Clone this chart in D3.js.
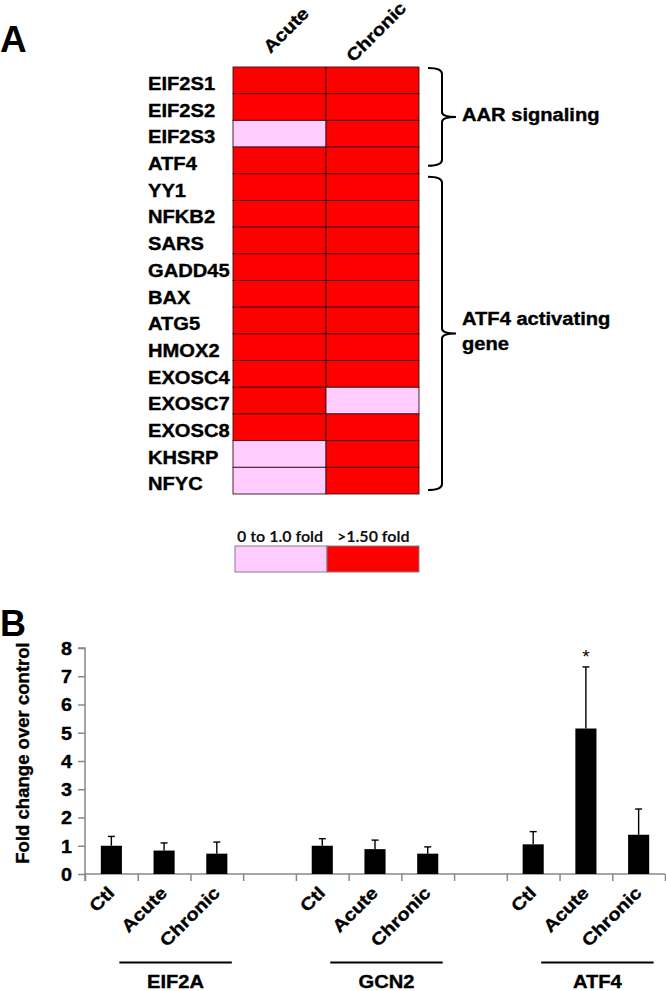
<!DOCTYPE html>
<html><head><meta charset="utf-8">
<script src="https://cdn.jsdelivr.net/npm/d3@7"></script>
<style>html,body{margin:0;padding:0;background:#fff}svg{display:block}</style>
</head><body>
<svg id="c" width="666" height="991"></svg>
<script>
// ---------- Data ----------
const genes = ["EIF2S1","EIF2S2","EIF2S3","ATF4","YY1","NFKB2","SARS","GADD45","BAX","ATG5","HMOX2","EXOSC4","EXOSC7","EXOSC8","KHSRP","NFYC"];
const heatColumns = ["Acute","Chronic"];
// 1 = ">1.50 fold", 0 = "0 to 1.0 fold"
const acuteLevel   = [1,1,0,1,1,1,1,1,1,1,1,1,1,1,0,0];
const chronicLevel = [1,1,1,1,1,1,1,1,1,1,1,1,0,1,1,1];
const legendLabels = ["0 to 1.0 fold", ">1.50 fold"];
const braceGroups = [
  {label:["AAR signaling"], first:"EIF2S1", last:"ATF4"},
  {label:["ATF4 activating","gene"], first:"YY1", last:"NFYC"}
];

const barGroups = ["EIF2A","GCN2","ATF4"];
const conditions = ["Ctl","Acute","Chronic"];
const meanEIF2A = [1.00, 0.83, 0.72];
const meanGCN2  = [1.00, 0.88, 0.72];
const meanATF4  = [1.05, 5.15, 1.39];
const errEIF2A  = [0.33, 0.27, 0.41];
const errGCN2   = [0.25, 0.32, 0.24];
const errATF4   = [0.45, 2.18, 0.91];
const yTicks = [0,1,2,3,4,5,6,7,8];
const significant = [{group:"ATF4", cond:"Acute", mark:"*"}];

// ---------- Setup ----------
const svg = d3.select("#c");
const FONT = "'Liberation Sans', Arial, sans-serif";
const XS = 1.15;
function stretch(sel, f){
  sel.each(function(){
    const L = this.getComputedTextLength();
    d3.select(this).attr("textLength", L*f).attr("lengthAdjust","spacingAndGlyphs");
  });
}
function heavy(sel){ sel.attr("stroke","#000").attr("stroke-width",0.35); }

// ---------- Panel A ----------
svg.append("text").attr("x",0).attr("y",52).attr("font-family",FONT).attr("font-weight","bold")
  .attr("font-size",37).text("A");

const hx = d3.scaleBand().domain(heatColumns).range([233,419]);
const hy = d3.scaleBand().domain(genes).range([67,494]);
const color = d3.scaleOrdinal().domain([0,1]).range(["#ffccff","#ff0000"]);

const cells = [];
genes.forEach((g,i)=>{
  cells.push({gene:g, col:"Acute", v:acuteLevel[i]});
  cells.push({gene:g, col:"Chronic", v:chronicLevel[i]});
});
svg.append("g").selectAll("rect").data(cells).join("rect")
  .attr("x",d=>hx(d.col)).attr("y",d=>hy(d.gene))
  .attr("width",hx.bandwidth()).attr("height",hy.bandwidth())
  .attr("fill",d=>color(d.v)).attr("stroke","#3a1010").attr("stroke-width",0.9);

// gene labels
svg.append("g").selectAll("text").data(genes).join("text")
  .attr("x",148).attr("y",d=>hy(d)+23)
  .attr("font-family",FONT).attr("font-weight","bold").attr("font-size",17.5)
  .attr("fill","#000").text(d=>d).call(stretch, XS).call(heavy);

// column headers
const headerAnchor = {Acute:[-9,-13], Chronic:[-19,-4]};
svg.append("g").selectAll("text").data(heatColumns).join("text")
  .attr("transform",d=>`translate(${hx(d)+hx.bandwidth()/2+headerAnchor[d][0]},${hy.range()[0]+headerAnchor[d][1]}) rotate(-45)`)
  .attr("font-family",FONT).attr("font-weight","bold").attr("font-size",17.5)
  .text(d=>d).call(stretch, XS).call(heavy);

// braces
braceGroups.forEach((b,k)=>{
  const top = hy(b.first) + (k===0?1:3);
  const bot = hy(b.last) + hy.bandwidth() - (k===0?8:4);
  const mid = (top+bot)/2;
  const x0 = hx.range()[1]+9, xv = x0+14, xt = xv+14;
  const p = `M${x0},${top} Q${xv},${top} ${xv},${top+6} L${xv},${mid-5} Q${xv},${mid} ${xt},${mid} Q${xv},${mid} ${xv},${mid+5} L${xv},${bot-6} Q${xv},${bot} ${x0},${bot}`;
  svg.append("path").attr("d",p).attr("fill","none").attr("stroke","#000").attr("stroke-width",2);
  const lines = b.label;
  const t = svg.append("g");
  lines.forEach((s,j)=>{
    t.append("text").attr("x",xt+6).attr("y",mid+4 + (lines.length>1 ? (j-0.48)*25 : 0))
      .attr("font-family",FONT).attr("font-weight","bold").attr("font-size",17.5).text(s).call(stretch, XS).call(heavy);
  });
});

// legend
const lx = d3.scaleBand().domain(legendLabels).range([235,419]);
const lg = svg.append("g");
lg.selectAll("rect").data(legendLabels).join("rect")
  .attr("x",d=>lx(d)).attr("y",546).attr("width",lx.bandwidth()).attr("height",26)
  .attr("fill",(d,i)=>color(i)).attr("stroke","#8a7a8a").attr("stroke-width",1);
lg.selectAll("text").data(legendLabels).join("text")
  .attr("x",(d,i)=>lx(d)+(i===0?2:10)).attr("y",542)
  .attr("font-family","Lato, 'Open Sans', sans-serif").attr("font-weight","bold").attr("font-size",16)
  .attr("fill","#111").text(d=>d);

// ---------- Panel B ----------
svg.append("text").attr("x",0).attr("y",636).attr("font-family",FONT).attr("font-weight","bold")
  .attr("font-size",36).text("B");

const means = {EIF2A:meanEIF2A, GCN2:meanGCN2, ATF4:meanATF4};
const errs = {EIF2A:errEIF2A, GCN2:errGCN2, ATF4:errATF4};
const slots = [];
barGroups.forEach((g,gi)=>{
  conditions.forEach(c=>slots.push(g+"|"+c));
  if (gi<barGroups.length-1) slots.push("gap"+gi);
});
const x = d3.scaleBand().domain(slots).range([85,665]).padding(0);
const y = d3.scaleLinear().domain([0,8]).range([874,648]);
const bars = [];
barGroups.forEach(g=>conditions.forEach((c,i)=>bars.push({g, c, key:g+"|"+c, m:means[g][i], e:errs[g][i]})));

// y axis
const ya = svg.append("g").attr("transform","translate(85,0)")
  .call(d3.axisLeft(y).tickValues(yTicks).tickSize(7).tickPadding(6).tickFormat(d3.format("d")));
ya.select(".domain").attr("stroke","#888").attr("stroke-width",1.5).attr("d",`M-7,${y(8)}H0V${y(0)+7}`);
ya.selectAll(".tick line").attr("stroke","#888").attr("stroke-width",1.5);
ya.selectAll(".tick text").attr("font-family",FONT).attr("font-weight","bold").attr("font-size",18)
  .attr("fill","#000").attr("dy","0.36em").call(stretch, 1.1).call(heavy);

// x axis with ticks at slot boundaries
const xb = d3.scaleLinear().domain([0,slots.length]).range(x.range());
const xa = svg.append("g").attr("transform",`translate(0,${y(0)})`)
  .call(d3.axisBottom(xb).tickValues(d3.range(slots.length+1)).tickSize(7).tickFormat(""));
xa.select(".domain").attr("stroke","#888").attr("stroke-width",1.5).attr("d",`M${x.range()[0]},0H${x.range()[1]}`);
xa.selectAll(".tick line").attr("stroke","#888").attr("stroke-width",1.5);

// bars
const bw = x.bandwidth()*0.4;
svg.append("g").selectAll("rect").data(bars).join("rect")
  .attr("x",d=>x(d.key)+x.bandwidth()/2-bw/2).attr("y",d=>y(d.m))
  .attr("width",bw).attr("height",d=>y(0)-y(d.m)).attr("fill","#000");
// error bars
const eg = svg.append("g").attr("stroke","#000").attr("stroke-width",1.4);
eg.selectAll("line.v").data(bars).join("line").attr("class","v")
  .attr("x1",d=>x(d.key)+x.bandwidth()/2).attr("x2",d=>x(d.key)+x.bandwidth()/2)
  .attr("y1",d=>y(d.m)).attr("y2",d=>y(d.m+d.e));
eg.selectAll("line.c").data(bars).join("line").attr("class","c")
  .attr("x1",d=>x(d.key)+x.bandwidth()/2-3.5).attr("x2",d=>x(d.key)+x.bandwidth()/2+3.5)
  .attr("y1",d=>y(d.m+d.e)).attr("y2",d=>y(d.m+d.e));

// significance
svg.append("g").selectAll("text").data(significant).join("text")
  .attr("x",d=>x(d.group+"|"+d.cond)+x.bandwidth()/2).attr("y",d=>{
    const b = bars.find(o=>o.key===d.group+"|"+d.cond); return y(b.m+b.e)-4;})
  .attr("text-anchor","middle").attr("font-family",FONT).attr("font-size",19).text(d=>d.mark);

// x labels
svg.append("g").selectAll("text").data(bars).join("text")
  .attr("transform",d=>`translate(${x(d.key)+x.bandwidth()/2+4},${y(0)+20}) rotate(-45)`)
  .attr("text-anchor","end").attr("font-family",FONT).attr("font-weight","bold").attr("font-size",17.5)
  .text(d=>d.c).call(stretch, XS).call(heavy);

// group lines and labels
barGroups.forEach(g=>{
  const a = x(g+"|"+conditions[0])+x.bandwidth()/2+8;
  const b = x(g+"|"+conditions[2])+x.bandwidth()/2+15;
  svg.append("line").attr("x1",a).attr("x2",b).attr("y1",962.5).attr("y2",962.5)
    .attr("stroke","#000").attr("stroke-width",2);
  svg.append("text").attr("x",(a+b)/2).attr("y",988).attr("text-anchor","middle")
    .attr("font-family",FONT).attr("font-weight","bold").attr("font-size",17.5).text(g).call(stretch, XS).call(heavy);
});

// y title
svg.append("text").attr("transform",`translate(29,753) rotate(-90)`)
  .attr("text-anchor","middle").attr("font-family",FONT).attr("font-weight","bold").attr("font-size",18)
  .text("Fold change over control").call(stretch, 1.03).call(heavy);
</script>
</body></html>
